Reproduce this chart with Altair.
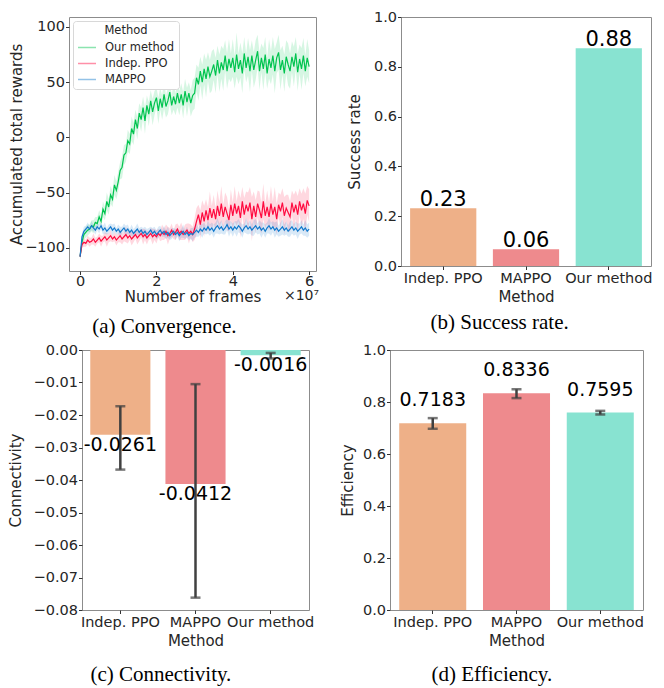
import altair as alt
import pandas as pd

FONT = "DejaVu Sans"
SERIF = "Liberation Serif"

# ---------------- (a) Convergence ----------------
FRAME_STEP = 5e5  # frames between logged points (x axis is in units of 1e7)

OURS = [
    -108, -95, -88, -86, -84, -83, -80, -81, -77, -78,
    -72, -76, -65, -69, -58, -63, -52, -56, -43, -48,
    -40, -30, -27, -16, -14, -3, -6, 8, 3, 16,
    8, 22, 16, 27, 15, 29, 21, 33, 23, 31,
    36, 24, 35, 27, 39, 28, 33, 41, 29, 37,
    30, 40, 31, 39, 29, 42, 32, 40, 31, 38,
    40, 54, 48, 60, 50, 62, 53, 64, 55, 60,
    66, 56, 70, 58, 68, 61, 74, 60, 71, 63,
    72, 59, 75, 62, 70, 58, 76, 63, 73, 60,
    74, 61, 70, 78, 60, 72, 62, 75, 58, 71,
    63, 74, 60, 72, 77, 61, 70, 58, 73, 66,
    60, 73, 64, 76, 59, 71, 62, 74, 60, 72,
    64,
]
OURS_SPREAD = [
    3, 4, 4, 5, 5, 4, 5, 6, 5, 6,
    6, 6, 7, 6, 8, 7, 8, 7, 9, 8,
    9, 8, 10, 9, 8, 10, 9, 11, 10, 9,
    10, 9, 11, 10, 12, 9, 11, 10, 12, 11,
    9, 12, 10, 11, 13, 10, 12, 11, 9, 12,
    10, 13, 11, 10, 12, 11, 13, 10, 12, 14,
    14, 12, 15, 13, 16, 14, 17, 13, 15, 18,
    14, 16, 13, 17, 15, 19, 14, 16, 18, 13,
    17, 15, 20, 14, 16, 18, 15, 13, 17, 19,
    14, 16, 18, 15, 17, 13, 19, 16, 14, 18,
    15, 17, 20, 14, 16, 18, 13, 17, 15, 19,
    16, 14, 18, 15, 17, 13, 19, 16, 14, 17,
    15,
]
INDEP = [
    -108, -97, -95, -96, -93, -95, -94, -92, -95, -93,
    -91, -94, -92, -90, -93, -91, -89, -92, -90, -93,
    -91, -89, -92, -90, -88, -91, -89, -92, -90, -88,
    -91, -89, -87, -90, -88, -91, -89, -87, -90, -88,
    -90, -87, -89, -86, -88, -85, -89, -87, -84, -88,
    -86, -83, -87, -85, -88, -86, -84, -87, -85, -88,
    -83, -76, -70, -79, -68, -76, -66, -75, -64, -73,
    -65, -74, -62, -71, -60, -72, -63, -69, -75, -61,
    -71, -60, -69, -62, -73, -58, -70, -61, -67, -59,
    -74, -62, -72, -60, -66, -73, -58, -71, -63, -72,
    -60, -70, -63, -74, -61, -67, -59, -71, -64, -68,
    -72, -59, -68, -61, -70, -58, -66, -60, -69, -57,
    -62,
]
INDEP_SPREAD = [
    3, 3, 4, 3, 4, 4, 3, 5, 4, 3,
    4, 5, 3, 4, 6, 4, 5, 3, 4, 5,
    4, 6, 5, 4, 7, 5, 4, 6, 5, 4,
    6, 5, 4, 7, 5, 6, 4, 5, 7, 5,
    6, 4, 5, 7, 5, 6, 8, 5, 6, 4,
    7, 5, 6, 8, 5, 7, 6, 9, 6, 7,
    10, 12, 9, 13, 11, 14, 10, 12, 15, 11,
    13, 10, 14, 12, 16, 11, 13, 15, 10, 14,
    12, 16, 11, 14, 18, 13, 15, 12, 17, 14,
    20, 13, 15, 12, 17, 14, 16, 11, 15, 13,
    16, 12, 18, 14, 11, 15, 13, 17, 12, 16,
    14, 11, 16, 13, 17, 12, 15, 14, 18, 13,
    15,
]
MAPPO = [
    -108, -90, -85, -83, -81, -83, -80, -82, -84, -81,
    -83, -80, -84, -82, -85, -83, -81, -84, -82, -85,
    -83, -86, -84, -82, -85, -83, -86, -84, -87, -85,
    -83, -86, -84, -87, -85, -88, -86, -84, -87, -85,
    -88, -86, -84, -87, -85, -88, -86, -89, -87, -85,
    -88, -86, -89, -87, -85, -88, -86, -89, -87, -88,
    -86, -84, -86, -83, -85, -82, -84, -81, -84, -82,
    -85, -82, -80, -83, -81, -84, -82, -79, -83, -81,
    -84, -81, -83, -80, -82, -85, -82, -80, -83, -81,
    -84, -82, -80, -83, -81, -84, -82, -85, -82, -80,
    -83, -81, -84, -82, -85, -83, -81, -84, -82, -85,
    -83, -81, -84, -82, -85, -83, -81, -84, -82, -85,
    -83,
]
MAPPO_SPREAD = [
    3, 3, 4, 3, 4, 3, 4, 3, 4, 3,
    4, 3, 4, 5, 3, 4, 3, 5, 4, 3,
    4, 5, 3, 4, 5, 4, 3, 5, 4, 4,
    5, 4, 3, 5, 4, 5, 4, 3, 5, 4,
    4, 5, 4, 3, 5, 4, 5, 4, 5, 3,
    5, 4, 5, 4, 6, 4, 5, 4, 5, 6,
    5, 6, 4, 5, 6, 5, 4, 6, 5, 5,
    6, 5, 7, 5, 6, 4, 6, 5, 7, 5,
    6, 5, 7, 6, 5, 6, 4, 7, 5, 6,
    5, 7, 6, 5, 6, 7, 5, 6, 5, 7,
    6, 5, 7, 6, 5, 6, 7, 5, 6, 5,
    7, 6, 5, 6, 7, 5, 6, 5, 7, 6,
    6,
]

LINE_METHODS = ["Our method", "Indep. PPO", "MAPPO"]
LINE_COLORS = ["#00c44f", "#ff0a3f", "#1279cc"]

# ---------------- bar panels ----------------
CATS = ["Indep. PPO", "MAPPO", "Our method"]
BAR_COLORS = ["#eeb088", "#ee8a8d", "#88e3d1"]

SUCCESS = [0.232, 0.067, 0.875]
SUCCESS_LABELS = ["0.23", "0.06", "0.88"]

CONNECT = [-0.0261, -0.0412, -0.0016]
CONNECT_LO = [-0.0368, -0.0762, -0.0026]
CONNECT_HI = [-0.0173, -0.0105, -0.0009]

EFFIC = [0.7183, 0.8336, 0.7595]
EFFIC_LO = [0.697, 0.815, 0.752]
EFFIC_HI = [0.738, 0.849, 0.766]

# ---------------- build tables ----------------
rows = []
for name, vals, spr in [("Our method", OURS, OURS_SPREAD),
                        ("Indep. PPO", INDEP, INDEP_SPREAD),
                        ("MAPPO", MAPPO, MAPPO_SPREAD)]:
    assert len(vals) == 121 and len(spr) == 121, name
    for i, (v, s) in enumerate(zip(vals, spr)):
        rows.append({"Method": name, "frame": i * FRAME_STEP, "reward": v,
                     "lo": v - s, "hi": v + s, "order": LINE_METHODS.index(name)})
df_lines = pd.DataFrame(rows)

df_succ = pd.DataFrame({"Method": CATS, "value": SUCCESS, "label": SUCCESS_LABELS})
df_conn = pd.DataFrame({"Method": CATS, "value": CONNECT, "lo": CONNECT_LO, "hi": CONNECT_HI,
                        "label": [f"{v:.4f}" for v in CONNECT]})
df_eff = pd.DataFrame({"Method": CATS, "value": EFFIC, "lo": EFFIC_LO, "hi": EFFIC_HI,
                       "label": [f"{v:.4f}" for v in EFFIC]})


def caption(text, offset):
    return alt.TitleParams(text, orient="bottom", anchor="middle", frame="bounds",
                           font=SERIF, fontSize=21, fontWeight="normal", color="black",
                           offset=offset)


# ----- panel (a) -----
A_W, A_H = 247, 254
line_color = alt.Color(
    "Method:N",
    scale=alt.Scale(domain=LINE_METHODS, range=LINE_COLORS),
    legend=alt.Legend(
        title="Method", orient="top-left", offset=4, fillColor="white",
        strokeColor="#d8d8d8", cornerRadius=3, padding=4,
        titleAnchor="middle", titleFont=FONT, titleFontSize=11.5, titleFontWeight="normal",
        titleColor="#262626", labelFont=FONT, labelFontSize=11.5, labelColor="#262626",
        symbolType="stroke", symbolStrokeWidth=1.5, symbolOpacity=0.45, symbolSize=324,
        rowPadding=0, titlePadding=1, labelOffset=8,
    ),
)
xa = alt.X("frame:Q", scale=alt.Scale(domain=[-0.29e7, 6.18e7], nice=False, zero=False),
           axis=alt.Axis(values=[0, 2e7, 4e7, 6e7], labelExpr="format(datum.value / 1e7, 'd')",
                         title="Number of frames", labelPadding=0, titlePadding=1))
ya_scale = alt.Scale(domain=[-121, 109], nice=False, zero=False)
ya_axis = alt.Axis(values=[-100, -50, 0, 50, 100], title="Accumulated total rewards",
                   titlePadding=0, labelPadding=1)

base_a = alt.Chart(df_lines)
band = base_a.mark_area(opacity=0.16).encode(
    x=xa, y=alt.Y("lo:Q", scale=ya_scale, axis=ya_axis), y2="hi:Q", color=line_color,
    order="order:Q")
lines = base_a.mark_line(strokeWidth=1.2).encode(
    x=xa, y=alt.Y("reward:Q", scale=ya_scale, axis=ya_axis), color=line_color,
    order="frame:Q")
offset_txt = alt.Chart(pd.DataFrame({"t": ["×10⁷"]})).mark_text(
    align="right", baseline="middle", font=FONT, fontSize=14, color="#262626", dx=10
).encode(x=alt.datum(6.0e7), y=alt.value(A_H + 25), text="t:N")
panel_a = alt.layer(band, lines, offset_txt).properties(
    width=A_W, height=A_H, title=caption("(a) Convergence.", 12))

xbar_scale = alt.Scale(domain=CATS, paddingInner=0.2, paddingOuter=0.11)
xbar_axis = alt.Axis(labelAngle=0, title="Method", labelPadding=2, titlePadding=4)


def xbar():
    return alt.X("Method:N", sort=CATS, scale=xbar_scale, axis=xbar_axis)


bar_color = alt.Color("Method:N", scale=alt.Scale(domain=CATS, range=BAR_COLORS), legend=None)
UNIT_TICKS = [0, 0.2, 0.4, 0.6, 0.8, 1.0]
ERR_COLOR = "#404040"

# ----- panel (b) -----
ybs = alt.Scale(domain=[0, 1], nice=False)
yb_axis = alt.Axis(values=UNIT_TICKS, format=".1f", title="Success rate",
                   titlePadding=11, labelPadding=1, labelOverlap=False)
bars_b = alt.Chart(df_succ).mark_bar().encode(
    x=xbar(), y=alt.Y("value:Q", scale=ybs, axis=yb_axis), color=bar_color)
text_b = alt.Chart(df_succ).mark_text(font=FONT, fontSize=21, baseline="alphabetic", dy=-2,
                                      color="black").encode(
    x=xbar(), y=alt.Y("value:Q", scale=ybs, axis=yb_axis), text="label:N")
panel_b = alt.layer(bars_b, text_b).properties(width=250, height=249,
                                               title=caption("(b) Success rate.", 8))


def err_layers(df, scale, axis):
    rule = alt.Chart(df).mark_rule(color=ERR_COLOR, strokeWidth=2.5).encode(
        x=xbar(), y=alt.Y("lo:Q", scale=scale, axis=axis), y2="hi:Q")
    cap_lo = alt.Chart(df).mark_tick(color=ERR_COLOR, thickness=2.5, size=10).encode(
        x=xbar(), y=alt.Y("lo:Q", scale=scale, axis=axis))
    cap_hi = alt.Chart(df).mark_tick(color=ERR_COLOR, thickness=2.5, size=10).encode(
        x=xbar(), y=alt.Y("hi:Q", scale=scale, axis=axis))
    return [rule, cap_lo, cap_hi]


# ----- panel (c) -----
CONN_TICKS = [-0.08, -0.07, -0.06, -0.05, -0.04, -0.03, -0.02, -0.01, 0.0]
ycs = alt.Scale(domain=[-0.08, 0], nice=False)
yc_axis = alt.Axis(values=CONN_TICKS, format=".2f", title="Connectivity",
                   titlePadding=10, labelPadding=1, labelOverlap=False)
bars_c = alt.Chart(df_conn).mark_bar().encode(
    x=xbar(), y=alt.Y("value:Q", scale=ycs, axis=yc_axis), color=bar_color)
text_c = alt.Chart(df_conn).mark_text(font=FONT, fontSize=19, baseline="top", dy=1,
                                      color="black").encode(
    x=xbar(), y=alt.Y("value:Q", scale=ycs, axis=yc_axis), text="label:N")
panel_c = alt.layer(bars_c, *err_layers(df_conn, ycs, yc_axis), text_c).properties(
    width=227, height=260, title=caption("(c) Connectivity.", 16))

# ----- panel (d) -----
yds = alt.Scale(domain=[0, 1], nice=False)
yd_axis = alt.Axis(values=UNIT_TICKS, format=".1f", title="Efficiency",
                   titlePadding=7, labelPadding=1, labelOverlap=False)
bars_d = alt.Chart(df_eff).mark_bar().encode(
    x=xbar(), y=alt.Y("value:Q", scale=yds, axis=yd_axis), color=bar_color)
text_d = alt.Chart(df_eff).mark_text(font=FONT, fontSize=19, baseline="alphabetic", dy=-17,
                                     color="black").encode(
    x=xbar(), y=alt.Y("value:Q", scale=yds, axis=yd_axis), text="label:N")
panel_d = alt.layer(bars_d, *err_layers(df_eff, yds, yd_axis), text_d).properties(
    width=253, height=260, title=caption("(d) Efficiency.", 16))


# invisible 1px anchor so each row's first panel is placed by its own axis extents
def anchor():
    return alt.Chart(pd.DataFrame({"s": [0]})).mark_text(text="").encode(
        x=alt.value(0), y=alt.value(0)
    ).properties(width=1, height=1, view=alt.ViewBackground(stroke="transparent"))


row1 = alt.concat(anchor(), panel_a, panel_b, columns=3, align="none",
                  spacing=26).resolve_scale(color="independent")
row2 = alt.concat(anchor(), panel_c, panel_d, columns=3, align="none",
                  spacing=24).resolve_scale(color="independent")

chart = alt.vconcat(row1, row2, spacing=3).resolve_scale(color="independent").properties(
    padding={"left": -28, "top": 0, "right": 0, "bottom": 0}
).configure(
    font=FONT, background="white"
).configure_view(
    stroke="#8c8c8c", strokeWidth=1
).configure_axis(
    labelFont=FONT, titleFont=FONT, labelFontSize=14.5, titleFontSize=15,
    labelColor="#262626", titleColor="#262626", titleFontWeight="normal",
    tickColor="#333333", tickSize=3.5, domain=False, grid=False, labelPadding=2,
)

chart.save("out.html", embed_options={"renderer": "svg", "actions": False})
